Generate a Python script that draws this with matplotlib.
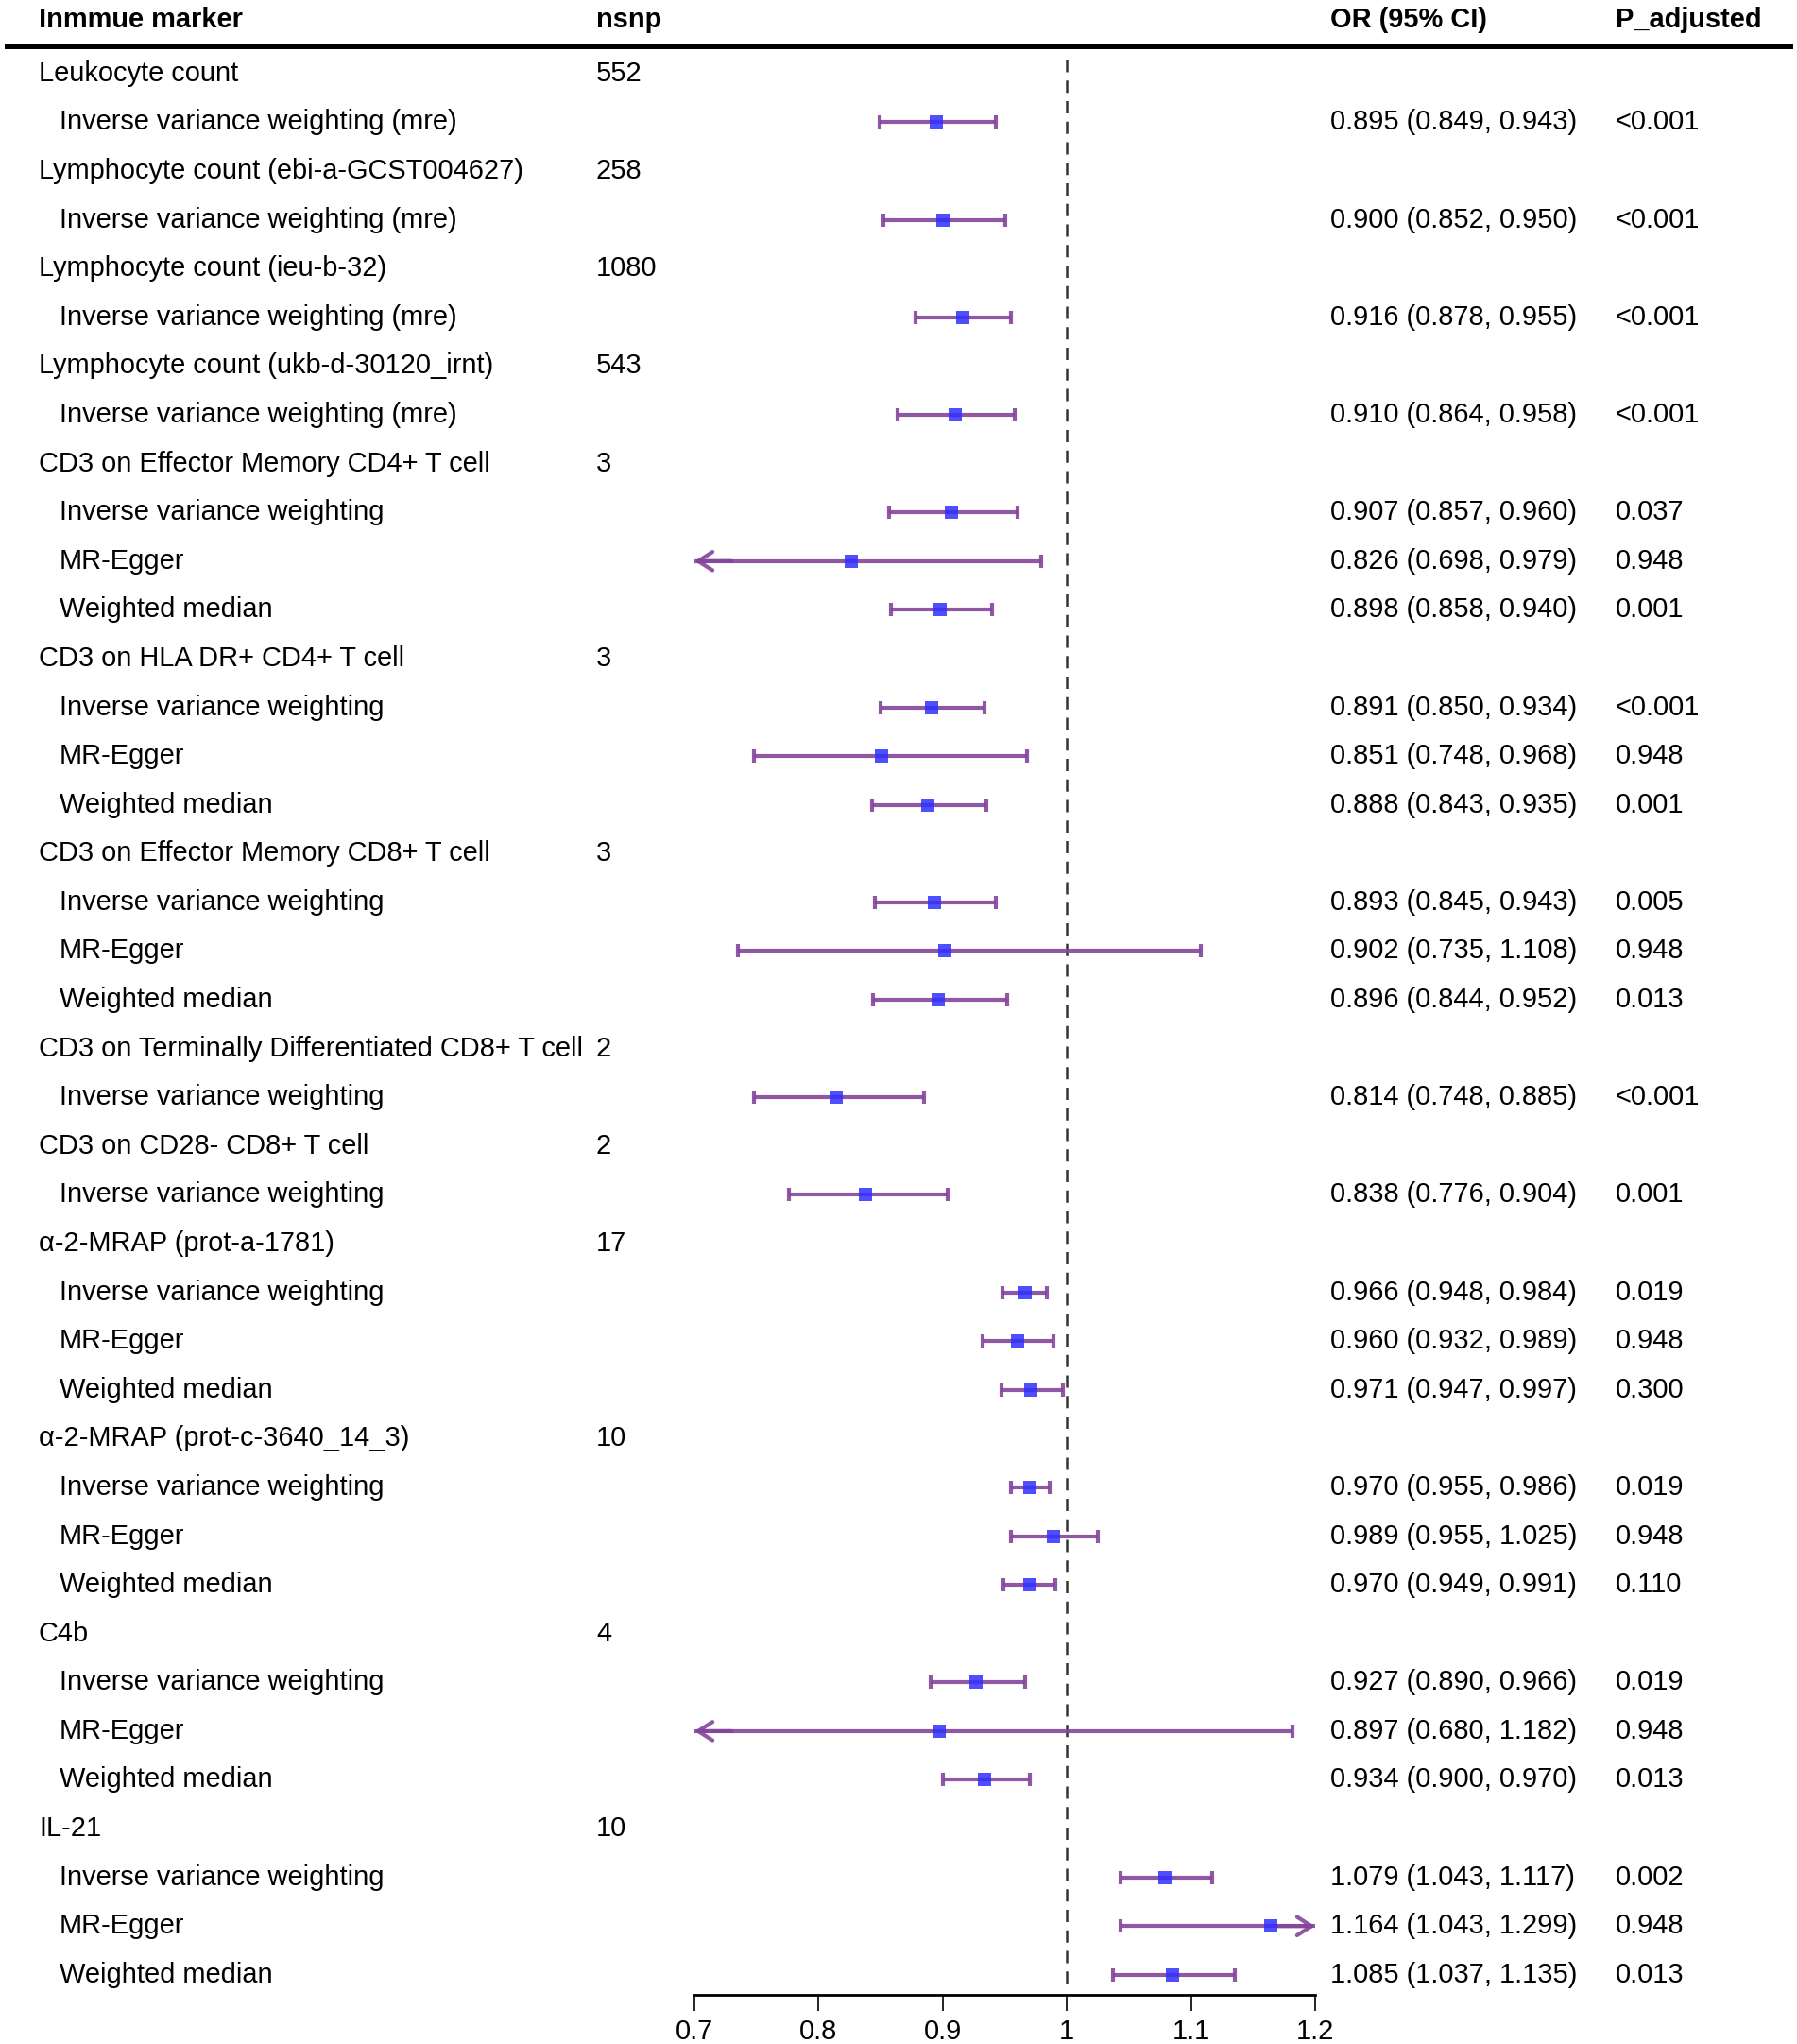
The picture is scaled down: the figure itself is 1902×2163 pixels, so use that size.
import matplotlib
matplotlib.use('Agg')
from matplotlib import pyplot as plt
from matplotlib import transforms
from matplotlib.lines import Line2D

plt.rcParams['font.family'] = ['Liberation Sans', 'DejaVu Sans']

#Immune markers and their number of SNPs
markers = ['Leukocyte count',
           'Lymphocyte count (ebi-a-GCST004627)',
           'Lymphocyte count (ieu-b-32)',
           'Lymphocyte count (ukb-d-30120_irnt)',
           'CD3 on Effector Memory CD4+ T cell',
           'CD3 on HLA DR+ CD4+ T cell',
           'CD3 on Effector Memory CD8+ T cell',
           'CD3 on Terminally Differentiated CD8+ T cell',
           'CD3 on CD28- CD8+ T cell',
           'α-2-MRAP (prot-a-1781)',
           'α-2-MRAP (prot-c-3640_14_3)',
           'C4b',
           'IL-21']
nsnp = [552, 258, 1080, 543, 3, 3, 3, 2, 2, 17, 10, 4, 10]

#MR estimates, one entry per method row
ivw_mre = 'Inverse variance weighting (mre)'
ivw = 'Inverse variance weighting'
egger = 'MR-Egger'
wm = 'Weighted median'

method_group = [0, 1, 2, 3, 4, 4, 4, 5, 5, 5, 6, 6, 6, 7, 8,
                9, 9, 9, 10, 10, 10, 11, 11, 11, 12, 12, 12]
method_name = [ivw_mre, ivw_mre, ivw_mre, ivw_mre,
               ivw, egger, wm, ivw, egger, wm, ivw, egger, wm,
               ivw, ivw,
               ivw, egger, wm, ivw, egger, wm, ivw, egger, wm, ivw, egger, wm]
or_est = [0.895, 0.900, 0.916, 0.910,
          0.907, 0.826, 0.898, 0.891, 0.851, 0.888, 0.893, 0.902, 0.896,
          0.814, 0.838,
          0.966, 0.960, 0.971, 0.970, 0.989, 0.970, 0.927, 0.897, 0.934,
          1.079, 1.164, 1.085]
or_lo = [0.849, 0.852, 0.878, 0.864,
         0.857, 0.698, 0.858, 0.850, 0.748, 0.843, 0.845, 0.735, 0.844,
         0.748, 0.776,
         0.948, 0.932, 0.947, 0.955, 0.955, 0.949, 0.890, 0.680, 0.900,
         1.043, 1.043, 1.037]
or_hi = [0.943, 0.950, 0.955, 0.958,
         0.960, 0.979, 0.940, 0.934, 0.968, 0.935, 0.943, 1.108, 0.952,
         0.885, 0.904,
         0.984, 0.989, 0.997, 0.986, 1.025, 0.991, 0.966, 1.182, 0.970,
         1.117, 1.299, 1.135]
p_adj = ['<0.001', '<0.001', '<0.001', '<0.001',
         '0.037', '0.948', '0.001', '<0.001', '0.948', '0.001', '0.005', '0.948', '0.013',
         '<0.001', '0.001',
         '0.019', '0.948', '0.300', '0.019', '0.948', '0.110', '0.019', '0.948', '0.013',
         '0.002', '0.948', '0.013']

x_ticks = [0.7, 0.8, 0.9, 1.0, 1.1, 1.2]
x_tick_labels = ['0.7', '0.8', '0.9', '1', '1.1', '1.2']
x_min, x_max = 0.7, 1.2

W, H = 1902, 2163
fig = plt.figure(figsize=(W / 100, H / 100), dpi=100)

#Forest panel, placed in pixel terms
ax = fig.add_axes([735 / W, 1 - 2111 / H, (1392 - 735) / W, (2111 - 49) / H])
ax.set_xlim(x_min, x_max)
ax.set_ylim(40.41, 0.44)

fs = 20.9
line_col = '#84459c'
box_col = '#3030ff'
arrow_style = '->,head_length=1.1,head_width=0.7'
tr = transforms.blended_transform_factory(fig.transFigure, ax.transData)

#Lay out the rows
row = 0
for g, name in enumerate(markers):
    row += 1
    ax.text(41 / W, row, name, transform=tr, fontsize=fs, va='center', ha='left')
    ax.text(631 / W, row, str(nsnp[g]), transform=tr, fontsize=fs, va='center', ha='left')
    for i in range(len(method_group)):
        if method_group[i] != g:
            continue
        row += 1
        ax.text(63 / W, row, method_name[i], transform=tr, fontsize=fs, va='center', ha='left')
        txt = '%.3f (%.3f, %.3f)' % (or_est[i], or_lo[i], or_hi[i])
        ax.text(1408 / W, row, txt, transform=tr, fontsize=fs, va='center', ha='left')
        ax.text(1710 / W, row, p_adj[i], transform=tr, fontsize=fs, va='center', ha='left')

        lo = max(or_lo[i], x_min)
        hi = min(or_hi[i], x_max)
        ax.plot([lo, hi], [row, row], color=line_col, lw=3, alpha=0.9,
                solid_capstyle='butt', zorder=2)
        #caps or arrows at the ends
        if or_lo[i] < x_min:
            ax.annotate('', xy=(x_min, row), xytext=(x_min + 0.03, row),
                        arrowprops=dict(arrowstyle=arrow_style, color=line_col,
                                        lw=3, alpha=0.9, shrinkA=0, shrinkB=0))
        else:
            ax.plot([lo], [row], marker='|', ms=10.5, mew=3, color=line_col, alpha=0.9)
        if or_hi[i] > x_max:
            ax.annotate('', xy=(x_max, row), xytext=(x_max - 0.03, row),
                        arrowprops=dict(arrowstyle=arrow_style, color=line_col,
                                        lw=3, alpha=0.9, shrinkA=0, shrinkB=0))
        else:
            ax.plot([hi], [row], marker='|', ms=10.5, mew=3, color=line_col, alpha=0.9)
        ax.plot([or_est[i]], [row], marker='s', ms=9.5, color=box_col,
                alpha=0.85, mew=0, zorder=3)

#Reference line at OR = 1
ax.vlines(1.0, 0.72, 40.25, colors='#333333', linestyles=(0, (5.2, 3.5)), lw=1.8, zorder=1)

#Axis formatting
for side in ['top', 'right', 'left']:
    ax.spines[side].set_visible(False)
ax.spines['bottom'].set_linewidth(2)
ax.spines['bottom'].set_bounds(x_min, x_max)
ax.set_yticks([])
ax.set_xticks(x_ticks)
ax.set_xticklabels(x_tick_labels)
ax.tick_params(axis='x', direction='out', length=12, width=1.2, labelsize=fs, pad=6)
ax.patch.set_visible(False)

#Header row and the thick rule under it
hy = 1 - 21 / H
fig.text(41 / W, hy, 'Inmmue marker', fontsize=fs, fontweight='bold', va='center')
fig.text(631 / W, hy, 'nsnp', fontsize=fs, fontweight='bold', va='center')
fig.text(1408 / W, hy, 'OR (95% CI)', fontsize=fs, fontweight='bold', va='center')
fig.text(1710 / W, hy, 'P_adjusted', fontsize=fs, fontweight='bold', va='center')
fig.add_artist(Line2D([7 / W, 1895 / W], [1 - 49 / H, 1 - 49 / H],
                      color='black', lw=3.6, transform=fig.transFigure))

fig.savefig('out.png', dpi=100, facecolor='white')
